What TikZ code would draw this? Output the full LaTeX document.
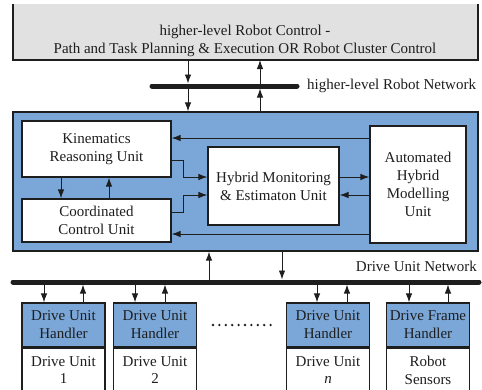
\documentclass[tikz,border=0pt]{standalone}
\usepackage{fontspec}
\setmainfont{Liberation Serif}
\usetikzlibrary{arrows.meta,calc}
\definecolor{boxblue}{RGB}{122,167,216}
\definecolor{boxgray}{RGB}{225,225,225}
\definecolor{ink}{RGB}{30,30,30}
\begin{document}
\begin{tikzpicture}[x=1pt,y=-1pt,
  txt/.style={font=\fontsize{15}{17.8}\selectfont,align=center,text=ink,inner sep=0pt},
  box/.style={draw=ink,line width=1.2pt,fill=white,inner sep=0pt,font=\fontsize{15}{17.8}\selectfont,align=center,text=ink},
  arr/.style={draw=ink,line width=0.9pt,-{Latex[length=9pt,width=6.5pt]}},
  bus/.style={draw=ink,line width=5pt,line cap=round}]
\useasboundingbox (0,0) rectangle (482,389);
% top box
\fill[boxgray] (13,4) rectangle (478,60);
\draw[ink,line width=1.2pt] (13,4) -- (13,60) -- (478,60) -- (478,4);
\coordinate (topb) at (245,60);
\node[txt] (toptxt) at (245,41) {higher-level Robot Control -\\Path and Task Planning \& Execution OR Robot Cluster Control};
% higher-level network
\coordinate (hn1) at (152,86);
\coordinate (hn2) at (297,86);
\draw[bus] (hn1) -- (hn2);
\node[txt,anchor=west] (hnlab) at (307,86) {higher-level Robot Network};
% main blue box
\node[box,fill=boxblue,minimum width=465pt,minimum height=139pt] (main) at (245.5,181.5) {};
\node[box,minimum width=149pt,minimum height=56pt] (kin) at (96.5,149) {Kinematics\\Reasoning Unit};
\node[box,minimum width=149pt,minimum height=43pt] (coord) at (96.5,220.5) {Coordinated\\Control Unit};
\node[box,minimum width=131pt,minimum height=78pt] (hyb) at (273.5,186) {Hybrid Monitoring\\\& Estimaton Unit};
\node[box,minimum width=96pt,minimum height=117pt] (auto) at (418,184.5) {Automated\\Hybrid\\Modelling\\Unit};
% helper coordinates
\coordinate (x188) at (188,0);
\coordinate (x260) at (260,0);
\coordinate (x61) at (61,0);
\coordinate (x109) at (109,0);
\coordinate (y138) at (0,138);
\coordinate (y160) at (0,160);
\coordinate (y177) at (0,177);
\coordinate (y195) at (0,195);
\coordinate (y212) at (0,212);
\coordinate (y234) at (0,234);
% arrows between top box, network, main
\draw[arr] (topb -| x188) -- ($(hn1 -| x188)+(0,-2.5)$);
\draw[arr] (hn1 -| x188) -- (main.north -| x188);
\draw[arr] (main.north -| x260) -- ($(hn1 -| x260)+(0,2.5)$);
\draw[arr] (hn1 -| x260) -- (topb -| x260);
% inner arrows
\draw[arr] (auto.west |- y138) -- (kin.east |- y138);
\draw[arr] (auto.west |- y234) -- (coord.east |- y234);
\draw[arr] (kin.east |- y160) -- ++(12,0) |- (hyb.west |- y177);
\draw[arr] (coord.east |- y212) -- ++(12,0) |- (hyb.west |- y195);
\draw[arr] (hyb.east |- y177) -- (auto.west |- y177);
\draw[arr] (auto.west |- y195) -- (hyb.east |- y195);
\draw[arr] (kin.south -| x61) -- (coord.north -| x61);
\draw[arr] (coord.north -| x109) -- (kin.south -| x109);
% drive unit network
\coordinate (dn1) at (13,282);
\coordinate (dn2) at (479,282);
\draw[bus] (dn1) -- (dn2);
\node[txt,anchor=east] (dnlab) at (477,266) {Drive Unit Network};
\coordinate (x282) at (282,0);
\coordinate (x209) at (209,0);
\draw[arr] (main.south -| x282) -- ($(dn1 -| x282)+(0,-2.5)$);
\draw[arr] ($(dn1 -| x209)+(0,-2.5)$) -- (main.south -| x209);
% bottom units
\foreach \n/\cx/\top/\bot/\dx/\ux in {1/63.5/Drive Unit\\Handler/Drive Unit\\1/44/83,
                                    2/155/Drive Unit\\Handler/Drive Unit\\2/135/165,
                                    3/328/Drive Unit\\Handler/Drive Unit\\\textit{n}/317/347,
                                    4/428/Drive Frame\\Handler/Robot\\Sensors/409/448}{
  \node[box,fill=boxblue,minimum width=83pt,minimum height=44pt] (h\n) at (\cx,325) {\top};
  \node[box,minimum width=83pt,minimum height=50pt,anchor=north] (u\n) at (h\n.south) {};
  \node[txt] (ut\n) at (\cx,370) {\bot};
  \coordinate (dx\n) at (\dx,0);
  \coordinate (ux\n) at (\ux,0);
  \draw[arr] ($(dn1 -| dx\n)+(0,2.5)$) -- (h\n.north -| dx\n);
  \draw[arr] (h\n.north -| ux\n) -- ($(dn1 -| ux\n)+(0,2.5)$);
}
% dots
\foreach \i in {0,...,9}{\fill[ink] (213+\i*6.4,325) circle (1.3pt);}
\end{tikzpicture}
\end{document}
